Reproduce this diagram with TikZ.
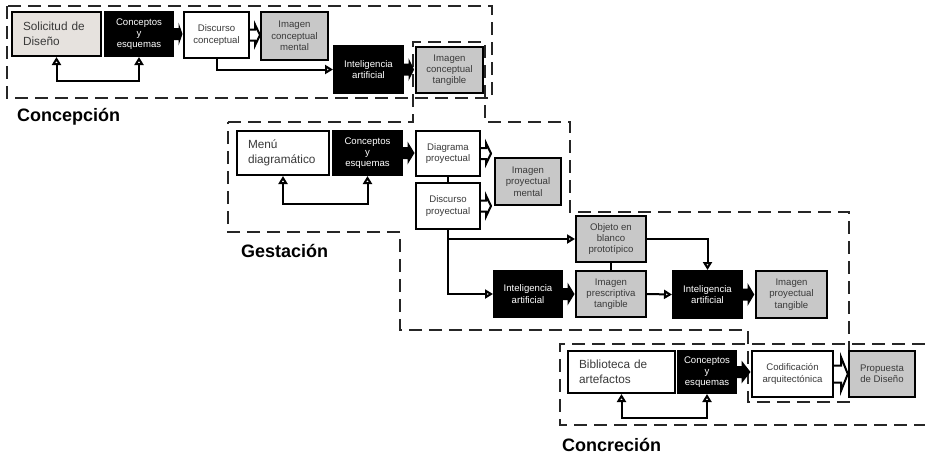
\documentclass[tikz,border=0pt]{standalone}
\usepackage{fontspec}
\setmainfont{Liberation Sans}
\usetikzlibrary{arrows.meta,calc}
\definecolor{boxgray}{HTML}{C8C8C8}
\definecolor{lightbox}{HTML}{E6E2DE}
\definecolor{txtgray}{HTML}{3A3A3A}
\newcommand{\blkarr}[2]{\fill let \p1=(#1.east), \p2=(#2.west) in
  (\x1-1pt,\y1+6pt) -- (\x1+4.5pt,\y1+6pt) -- (\x1+4.5pt,\y1+11.5pt) -- (\x2-0.5pt,\y1)
  -- (\x1+4.5pt,\y1-11.5pt) -- (\x1+4.5pt,\y1-6pt) -- (\x1-1pt,\y1-6pt) -- cycle;}
\newcommand{\hlwarr}[6]{\draw[conn] let \p1=(#1.east), \p2=(#2.west) in
  (\x1,\y1+#3pt) -- (\x1+#5pt,\y1+#3pt) -- (\x1+#5pt,\y1+#4pt) -- (\x2-#6pt,\y1)
  -- (\x1+#5pt,\y1-#4pt) -- (\x1+#5pt,\y1-#3pt) -- (\x1,\y1-#3pt);}
\begin{document}
\begin{tikzpicture}[x=1pt,y=-1pt,
  box/.style={draw=black, line width=2pt, inner sep=0pt, align=center,
    font=\fontsize{9.6}{11.3}\selectfont, text=txtgray},
  wbox/.style={box, fill=white},
  gbox/.style={box, fill=boxgray},
  bbox/.style={box, fill=black, text=white},
  lbox/.style={box, fill=white, align=left, font=\fontsize{11.8}{15}\selectfont, inner xsep=11pt},
  sz/.style 2 args={minimum width=#1pt, minimum height=#2pt},
  conn/.style={line width=2pt, line join=miter},
  oarrow/.style={conn, -{Triangle[open, length=8pt, width=9pt]}},
  oboth/.style={conn, {Triangle[open, length=8pt, width=9pt]}-{Triangle[open, length=8pt, width=9pt]}},
  phase/.style={line width=2.4pt, dash pattern=on 13pt off 7pt, draw=black!85},
  phaselabel/.style={font=\fontsize{18}{20}\selectfont\bfseries, anchor=base west, inner sep=0pt}
]
\useasboundingbox (0,0) rectangle (925,453);

% dashed regions
\draw[phase] (7,6) rectangle (492,98);
\draw[phase] (228,122) -- (413,122) -- (413,42) -- (485,42) -- (485,122) -- (570,122)
  -- (570,212) -- (849,212) -- (849,402) -- (748,402) -- (748,330) -- (400,330)
  -- (400,232) -- (228,232) -- cycle;
\draw[phase] (925,344) -- (560,344) -- (560,425) -- (925,425);

% Concepcion
\node[lbox, fill=lightbox, text width=67pt, minimum height=44pt] (sol) at (56.5,34) {Solicitud de\\Diseño};
\node[bbox, sz={68}{44}] (cy1) at (139,34) {Conceptos\\y\\esquemas};
\node[wbox, sz={65}{46}] (dc1) at (216.5,35) {Discurso\\conceptual};
\node[gbox, sz={67}{48}] (icm) at (294.5,36) {Imagen\\conceptual\\mental};
\node[bbox, sz={69}{47}] (ia1) at (368.5,69.5) {Inteligencia\\artificial};
\node[gbox, line width=2.8pt, sz={67}{46}] (ict) at (449.5,70) {Imagen\\conceptual\\tangible};

% Gestacion
\node[lbox, text width=70pt, minimum height=44pt] (menu) at (283,153) {Menú\\diagramático};
\node[bbox, sz={69}{44}] (cy2) at (367.5,153) {Conceptos\\y\\esquemas};
\node[wbox, sz={64}{45}] (dp) at (448,153.5) {Diagrama\\proyectual};
\node[wbox, sz={64}{46}] (dsp) at (448,206) {Discurso\\proyectual};
\node[gbox, sz={66}{47}] (ipm) at (528,181.5) {Imagen\\proyectual\\mental};
\node[gbox, sz={70}{46}] (obj) at (611,239) {Objeto en\\blanco\\prototípico};
\node[gbox, sz={70}{46}] (ipt) at (611,294) {Imagen\\prescriptiva\\tangible};
\node[bbox, sz={68}{46}] (ia2) at (528,294) {Inteligencia\\artificial};
\node[bbox, sz={69}{47}] (ia3) at (707.5,294.5) {Inteligencia\\artificial};
\node[gbox, line width=2.4pt, sz={71}{47}] (iyt) at (791.5,294.5) {Imagen\\proyectual\\tangible};

% Concrecion
\node[lbox, text width=85pt, minimum height=42pt] (bib) at (621.5,372) {Biblioteca de\\artefactos};
\node[bbox, sz={58}{42}] (cy3) at (707,372) {Conceptos\\y\\esquemas};
\node[wbox, sz={81}{46}] (cod) at (792.5,374) {Codificación\\arquitectónica};
\node[gbox, line width=2.4pt, sz={66}{46}] (prop) at (882,374) {Propuesta\\de Diseño};

% phase labels
\node[phaselabel] (lc1) at (17,121) {Concepción};
\node[phaselabel] (lc2) at (241,257) {Gestación};
\node[phaselabel] (lc3) at (562,451) {Concreción};

% black block arrows
\blkarr{cy1}{dc1}
\blkarr{ia1}{ict}
\blkarr{cy2}{dp}
\blkarr{ia2}{ipt}
\blkarr{ia3}{iyt}
\blkarr{cy3}{cod}

% hollow arrows
\hlwarr{dc1}{icm}{5.5}{10.5}{5}{0}
\hlwarr{dp}{ipm}{5.5}{10.5}{5}{3}
\hlwarr{dsp}{ipm}{5.5}{10.5}{5}{3}
\hlwarr{cod}{prop}{8.5}{17}{7}{0}

% feedback loops
\draw[oboth] (sol.south) -- ++(0,24) -| (cy1.south);
\draw[oboth] (menu.south) -- ++(0,28) -| (cy2.south);
\draw[oboth] (bib.south) -- ++(0,24) -| (cy3.south);

% other connectors
\draw[oarrow] (dc1.south) |- (ia1.west);
\draw[conn] (dp.south) -- (dsp.north);
\draw[oarrow] (dsp.south) |- (obj.west);
\draw[oarrow] (dsp.south) |- (ia2.west);
\draw[conn] (obj.south) -- (ipt.north);
\draw[oarrow] (ipt.east) -- (ia3.west);
\draw[oarrow] (obj.east) -| (ia3.north);
\end{tikzpicture}
\end{document}
